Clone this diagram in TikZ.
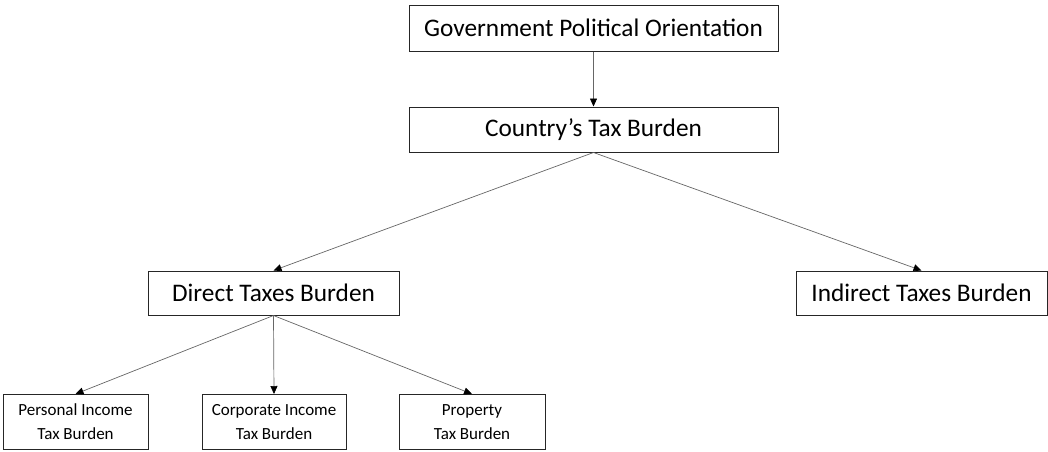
\documentclass[tikz,border=0pt]{standalone}
\usepackage{fontspec}
\setmainfont{Carlito}
\usetikzlibrary{arrows.meta}
\begin{document}
\begin{tikzpicture}[x=1pt,y=-1pt,
  bigbox/.style={draw=black!85,line width=1pt,inner sep=0pt,font=\fontsize{25.3}{29}\selectfont},
  smallbox/.style={draw=black!85,line width=1pt,inner sep=0pt,align=center,font=\fontsize{17}{24}\selectfont},
  conn/.style={draw=black!60,line width=0.7pt,-{Triangle[width=7pt,length=8pt,color=black]}}]
\useasboundingbox (0,0) rectangle (1048,451);
\node[bigbox,minimum width=369pt,minimum height=46pt] (b1) at (593.5,28) {Government Political Orientation};
\node[bigbox,minimum width=369pt,minimum height=45pt] (b2) at (593.5,129.5) {Country’s Tax Burden};
\node[bigbox,minimum width=251pt,minimum height=44pt] (b3) at (273.5,293) {Direct Taxes Burden};
\node[bigbox,minimum width=251pt,minimum height=44pt] (b4) at (921.5,293) {Indirect Taxes Burden};
\node[smallbox,minimum width=145pt,minimum height=55pt] (p1) at (75.5,422) {Personal Income\\Tax Burden};
\node[smallbox,minimum width=144pt,minimum height=55pt] (p2) at (274,422) {Corporate Income\\Tax Burden};
\node[smallbox,minimum width=146pt,minimum height=55pt] (p3) at (472,422) {Property\\Tax Burden};
\draw[conn] (b1.south) -- (b2.north);
\draw[conn] (b2.south) -- (b3.north);
\draw[conn] (b2.south) -- (b4.north);
\draw[conn] (b3.south) -- (p1.north);
\draw[conn] (b3.south) -- (p2.north);
\draw[conn] (b3.south) -- (p3.north);
\end{tikzpicture}
\end{document}
